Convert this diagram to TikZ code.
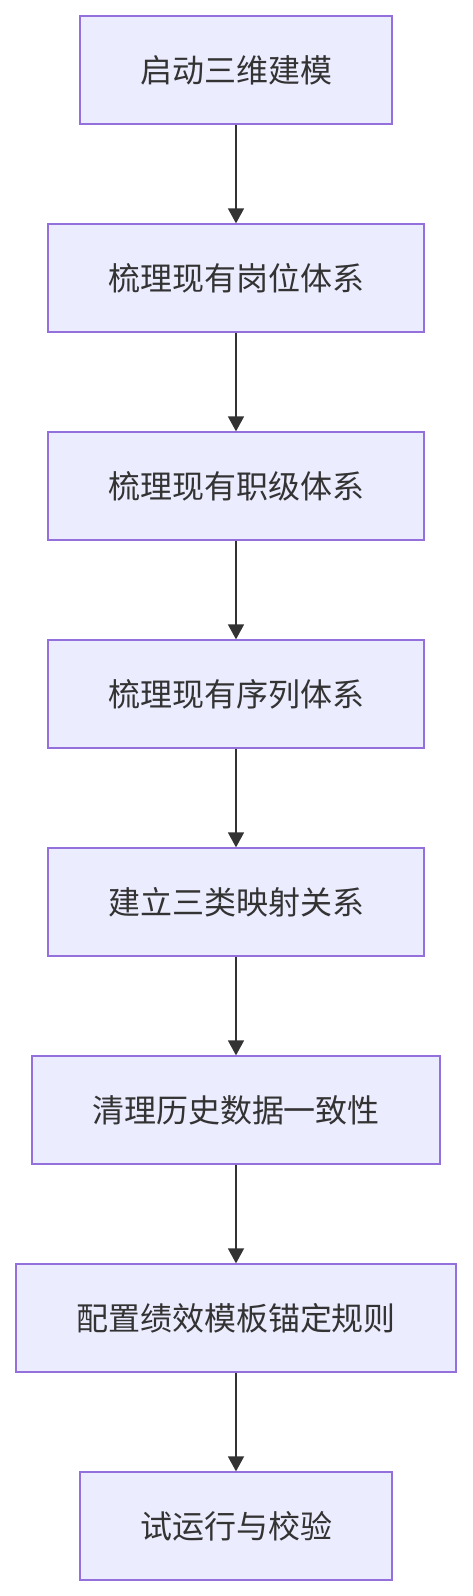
\documentclass[tikz,border=0pt]{standalone}
\usepackage{fontspec}
\newfontfamily\cjk{Noto Sans CJK SC}
\usetikzlibrary{arrows.meta}
\definecolor{boxfill}{HTML}{ECECFF}
\definecolor{boxline}{HTML}{9370DB}
\definecolor{inkgray}{HTML}{333333}
\tikzset{
  stepbox/.style={draw=boxline, fill=boxfill, line width=1.3pt, text=inkgray,
    minimum height=108pt, inner sep=0pt, font=\cjk\fontsize{32}{38}\selectfont},
  flow/.style={draw=inkgray, line width=1.6pt, -{Triangle[width=16pt,length=15pt]}}
}
\begin{document}
\begin{tikzpicture}[x=1pt,y=-1pt]
    \useasboundingbox (0,0) rectangle (472,1596);
    \node[stepbox, minimum width=312pt] (start) at (236,70) {启动三维建模};
    \node[stepbox, minimum width=376pt] (post) at (236,278) {梳理现有岗位体系};
    \node[stepbox, minimum width=376pt] (grade) at (236,486) {梳理现有职级体系};
    \node[stepbox, minimum width=376pt] (series) at (236,694) {梳理现有序列体系};
    \node[stepbox, minimum width=376pt] (mapping) at (236,902) {建立三类映射关系};
    \node[stepbox, minimum width=408pt] (clean) at (236,1110) {清理历史数据一致性};
    \node[stepbox, minimum width=440pt] (anchor) at (236,1318) {配置绩效模板锚定规则};
    \node[stepbox, minimum width=312pt] (trial) at (236,1526) {试运行与校验};
    \draw[flow] (start) -- (post);
    \draw[flow] (post) -- (grade);
    \draw[flow] (grade) -- (series);
    \draw[flow] (series) -- (mapping);
    \draw[flow] (mapping) -- (clean);
    \draw[flow] (clean) -- (anchor);
    \draw[flow] (anchor) -- (trial);
\end{tikzpicture}
\end{document}
